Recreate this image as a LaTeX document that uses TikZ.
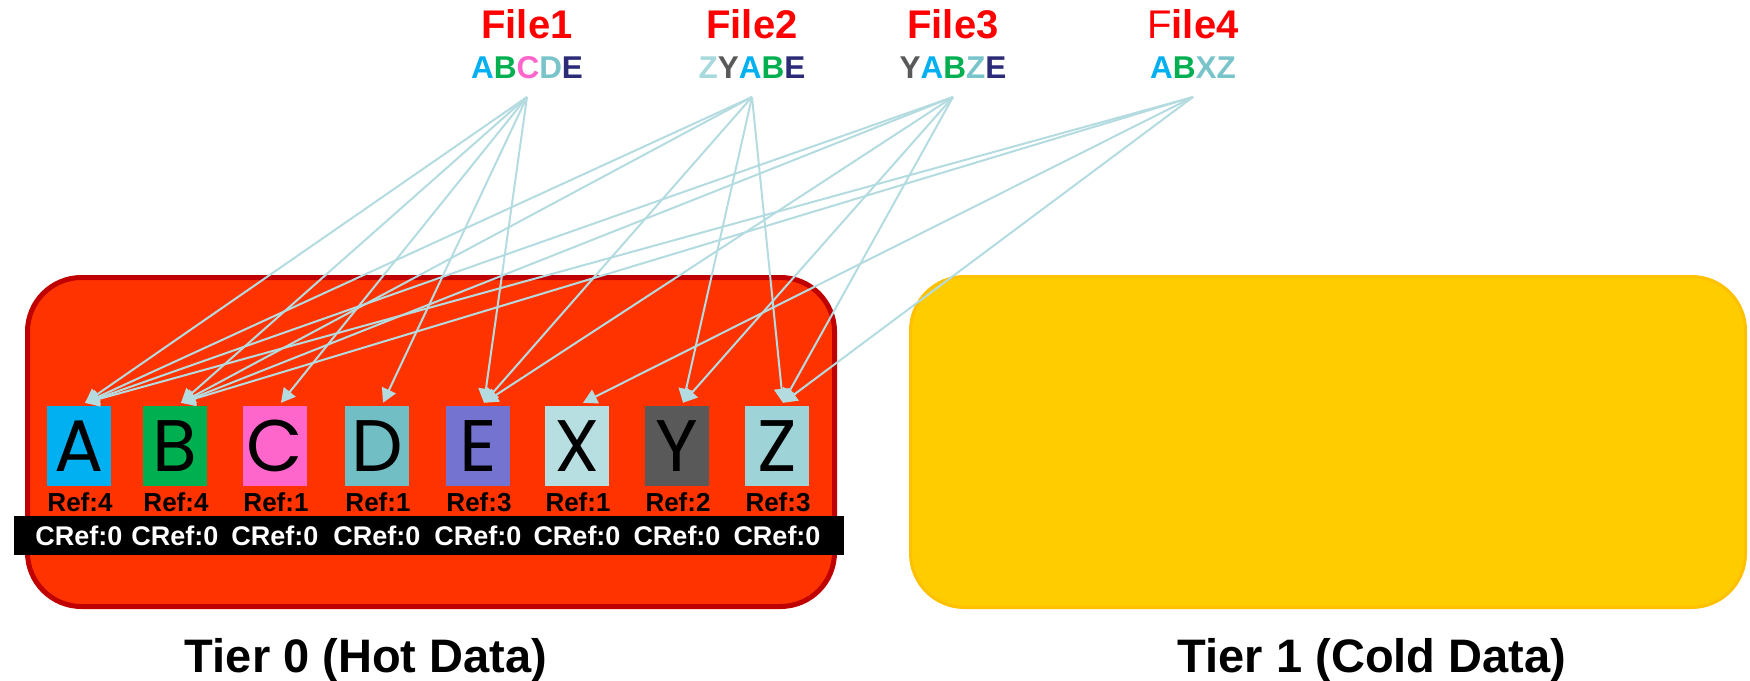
\documentclass[tikz,border=0pt]{standalone}
\usepackage{fontspec}
\setmainfont{Liberation Sans}
\newfontfamily\blockfont{Poppins}
\usetikzlibrary{arrows.meta}

% tier colours
\definecolor{hotred}{HTML}{FF3300}
\definecolor{hotedge}{HTML}{C00000}
\definecolor{coldyel}{HTML}{FFCC00}
\definecolor{coldedge}{HTML}{FFC000}
% block colours
\definecolor{cA}{HTML}{00B0F0}
\definecolor{cB}{HTML}{00B050}
\definecolor{cC}{HTML}{FF66CC}
\definecolor{cD}{HTML}{71BFC4}
\definecolor{cE}{HTML}{7473D0}
\definecolor{cX}{HTML}{B7DFE2}
\definecolor{cY}{HTML}{595959}
\definecolor{cZ}{HTML}{9ED3D7}
% letter colours in the file contents
\definecolor{tD}{HTML}{78C4CA}
\definecolor{tE}{HTML}{2B2B78}
\definecolor{tZl}{HTML}{A8D9DD}
\definecolor{linkc}{HTML}{B4DCE0}

\tikzset{
  tierbox/.style={rectangle, rounded corners=54pt, inner sep=0pt},
  tierlabel/.style={font=\bfseries\fontsize{47}{47}\selectfont, inner sep=0pt, anchor=base},
  filelbl/.style={font=\bfseries\fontsize{40}{40}\selectfont, text=red, inner sep=0pt, anchor=base},
  seqlbl/.style={font=\bfseries\fontsize{31.5}{31.5}\selectfont, inner sep=0pt, anchor=base},
  block/.style={rectangle, minimum width=64pt, minimum height=80pt, inner sep=0pt,
    text depth=0pt, text height=51pt, font=\blockfont\fontsize{73}{73}\selectfont},
  reflbl/.style={font=\bfseries\fontsize{26}{26}\selectfont, inner sep=0pt, anchor=base},
  creflbl/.style={font=\bfseries\fontsize{27}{27}\selectfont, text=white, inner sep=0pt, anchor=base},
  link/.style={draw=linkc, line width=2pt, -{Triangle[length=14pt,width=15pt]}},
}

\begin{document}
\begin{tikzpicture}[x=1pt, y=-1pt]
\useasboundingbox (0,0) rectangle (1750,680);

% storage tiers
\node[tierbox, draw=hotedge, line width=5pt, fill=hotred,
      minimum width=807pt, minimum height=329pt] (hot) at (431,442) {};
\node[tierbox, draw=coldedge, line width=3pt, fill=coldyel,
      minimum width=835pt, minimum height=331pt] (cold) at (1328,442) {};
\node[tierlabel] (hotlbl) at (366,672) {Tier 0 (Hot Data)};
\node[tierlabel] (coldlbl) at (1372,672) {Tier 1 (Cold Data)};

% counter band
\node[fill=black, minimum width=830pt, minimum height=39pt, inner sep=0pt] (band) at (429,535.5) {};

% data blocks with their reference counts
\foreach \n/\x/\c/\r in {A/79/cA/4, B/175/cB/4, C/275/cC/1, D/377/cD/1,
                         E/478/cE/3, X/577/cX/1, Y/677/cY/2, Z/777/cZ/3} {
  \node[block, fill=\c] (\n) at (\x,446) {\n};
  \node[reflbl] (ref\n) at (\x+1,511) {Ref:\r};
  \node[creflbl] (cref\n) at (\x,545) {CRef:0};
  \coordinate (t\n) at ([shift={(6,-3)}]\n.north);
}

% files and their contents
\node[filelbl] (file1) at (527,38) {File1};
\node[filelbl] (file2) at (752,38) {File2};
\node[filelbl] (file3) at (953,38) {File3};
\node[filelbl] (file4) at (1193,38) {\textmd{F}ile4};

\node[seqlbl] (seq1) at (527,78) {\textcolor{cA}{A}\textcolor{cB}{B}\textcolor{cC}{C}\textcolor{tD}{D}\textcolor{tE}{E}};
\node[seqlbl] (seq2) at (752,78) {\textcolor{tZl}{Z}\textcolor{cY}{Y}\textcolor{cA}{A}\textcolor{cB}{B}\textcolor{tE}{E}};
\node[seqlbl] (seq3) at (953,78) {\textcolor{cY}{Y}\textcolor{cA}{A}\textcolor{cB}{B}\textcolor{tD}{Z}\textcolor{tE}{E}};
\node[seqlbl] (seq4) at (1193,78) {\textcolor{cA}{A}\textcolor{cB}{B}\textcolor{tD}{X}\textcolor{tD}{Z}};

\coordinate (o1) at (527,97);
\coordinate (o2) at (752,97);
\coordinate (o3) at (953,97);
\coordinate (o4) at (1193,97);

% references from files to blocks
\foreach \t in {A,B,C,D,E} \draw[link] (o1) -- (t\t);
\foreach \t in {Z,Y,A,B,E} \draw[link] (o2) -- (t\t);
\foreach \t in {Y,A,B,Z,E} \draw[link] (o3) -- (t\t);
\foreach \t in {A,B,X,Z}   \draw[link] (o4) -- (t\t);
\end{tikzpicture}
\end{document}
